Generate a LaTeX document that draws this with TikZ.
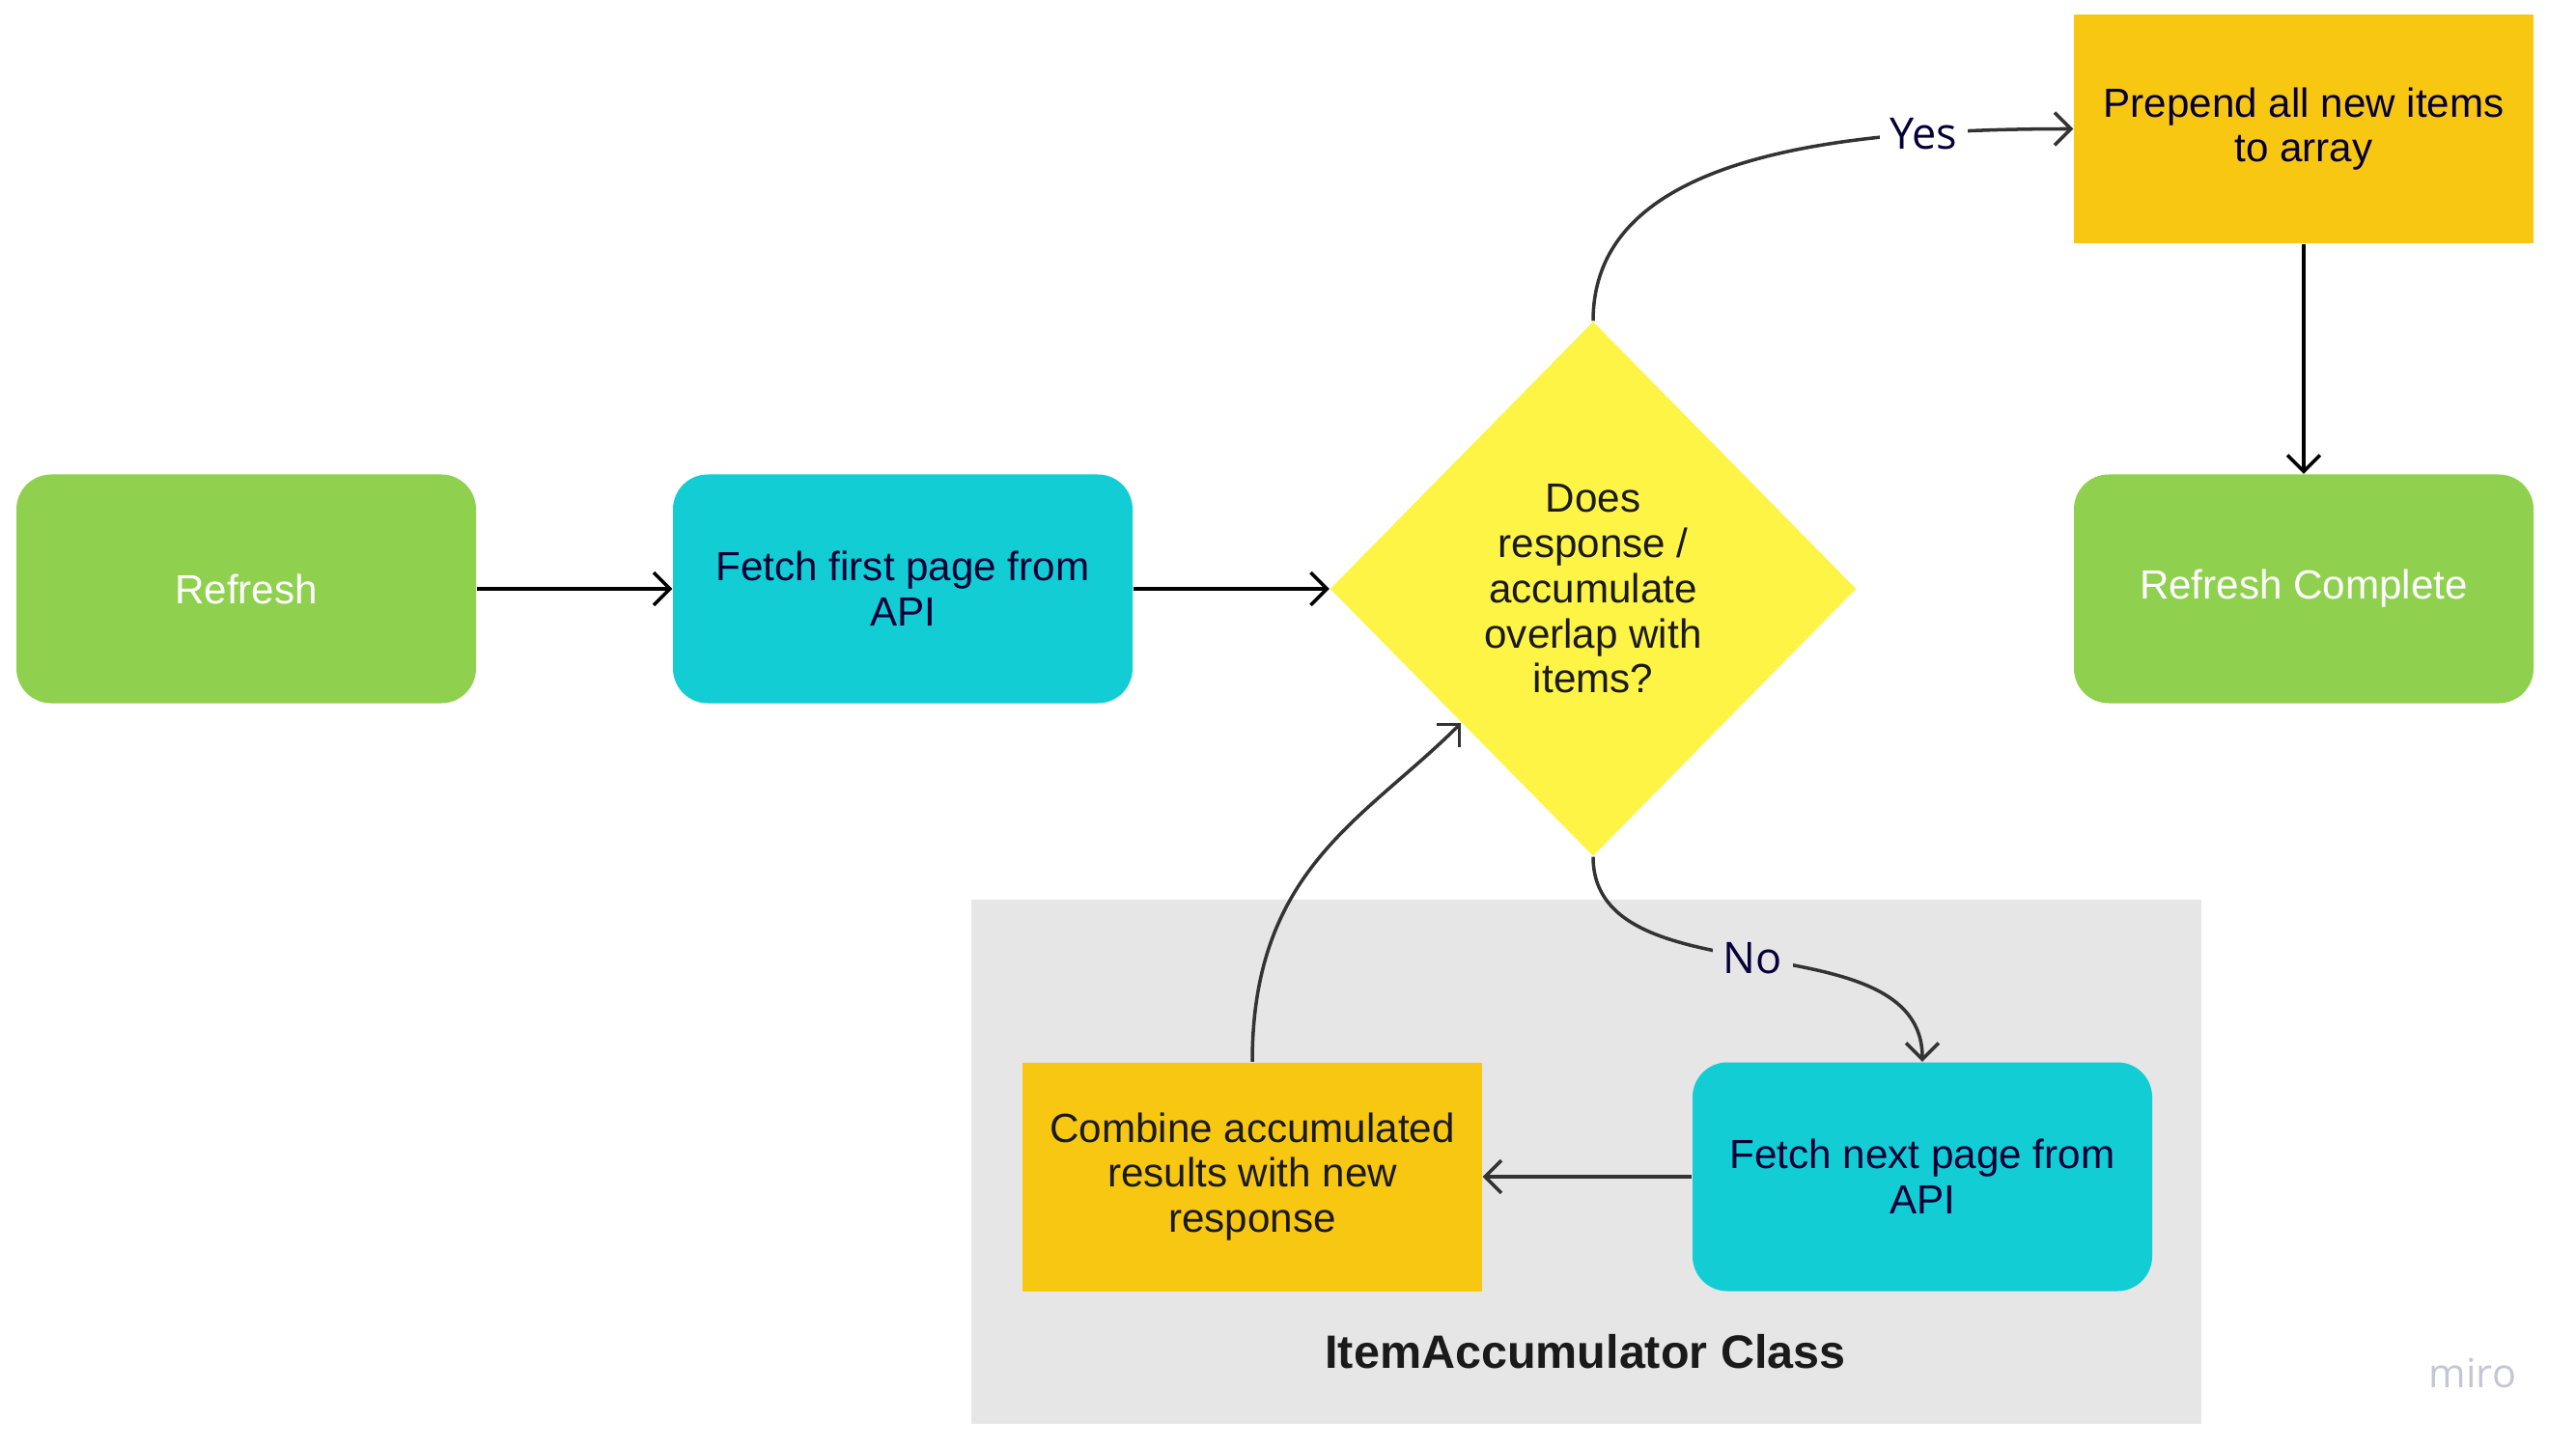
\documentclass[tikz,border=0pt]{standalone}
\usepackage{fontspec}
\setmainfont{Liberation Sans}
\newfontfamily\labelfont{Open Sans}
\usetikzlibrary{shapes.geometric,arrows.meta}
\definecolor{mgreen}{HTML}{8FD14F}
\definecolor{mcyan}{HTML}{12CDD4}
\definecolor{morange}{HTML}{F8C712}
\definecolor{myellow}{HTML}{FEF445}
\definecolor{mgray}{HTML}{E6E6E6}
\definecolor{mnavy}{HTML}{050038}
\definecolor{mdark}{HTML}{1A1A1A}
\definecolor{mline}{HTML}{333333}
\definecolor{mlogo}{HTML}{C6C6D3}
\tikzset{
  boxbase/.style={minimum width=4.76cm, minimum height=2.37cm, align=center,
    font=\fontsize{12}{13.3}\selectfont, inner sep=0pt},
  roundbox/.style={boxbase, rounded corners=0.36cm},
  greenbox/.style={roundbox, fill=mgreen, text=white},
  cyanbox/.style={roundbox, fill=mcyan, text=mnavy},
  orangebox/.style={boxbase, fill=morange},
  decision/.style={diamond, fill=myellow, minimum width=5.45cm, minimum height=5.54cm,
    inner sep=0pt, align=center, text=mdark, font=\fontsize{12}{13.3}\selectfont},
  conn/.style={line width=1pt, -{Straight Barb[length=4.8pt,width=9.6pt]}},
  flowlabel/.style={font=\labelfont\fontsize{12.8}{14}\selectfont, text=mnavy, inner xsep=3pt, inner ysep=1pt}
}
\begin{document}
\begin{tikzpicture}[x=1cm,y=-1cm]
\useasboundingbox (0,0) rectangle (26.68,14.99);
% container
\node[fill=mgray, minimum width=12.74cm, minimum height=5.43cm, inner sep=0pt] (cls) at (16.43,12.035) {};
\node[font=\bfseries\fontsize{13.8}{16}\selectfont, text=mdark] (clslabel) at (16.42,14.00) {ItemAccumulator Class};
% nodes
\node[greenbox] (refresh) at (2.55,6.10) {Refresh};
\node[cyanbox] (ffirst) at (9.35,6.10) {Fetch first page from\\API};
\node[decision] (dia) at (16.50,6.10) {Does\\response /\\accumulate\\overlap with\\items?};
\node[orangebox, text=mnavy] (prep) at (23.86,1.335) {Prepend all new items\\to array};
\node[greenbox] (done) at (23.86,6.10) {Refresh Complete};
\node[orangebox, text=mdark] (comb) at (12.97,12.19) {Combine accumulated\\results with new\\response};
\node[cyanbox] (fnext) at (19.91,12.19) {Fetch next page from\\API};
\node[font=\labelfont\fontsize{11.8}{13}\selectfont, text=mlogo] (logo) at (25.61,14.22) {miro};
% connectors
\draw[conn, black] (refresh) -- (ffirst);
\draw[conn, black] (ffirst) -- (dia.west);
\draw[conn, mline] (dia.north) .. controls +(0,-1.70) and +(-2.5,0) .. node[pos=0.79, fill=white, flowlabel] (yes) {Yes} (prep.west);
\draw[conn, black] (prep) -- (done);
\draw[conn, mline] (dia.south) .. controls +(0,1.5) and +(0,-1.5) .. node[pos=0.49, fill=mgray, flowlabel] (no) {No} (fnext.north);
\draw[conn, mline] (fnext) -- (comb);
\draw[conn, mline] (comb.north) .. controls +(0,-2.0) and +(-1.0,1.0) .. (dia.south west);
\end{tikzpicture}
\end{document}
